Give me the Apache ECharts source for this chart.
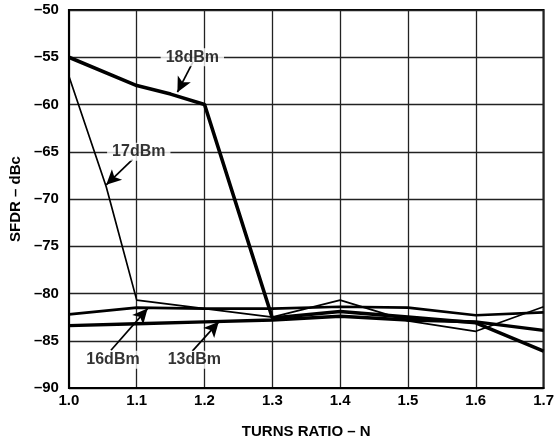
<!DOCTYPE html>
<html>
<head>
<meta charset="utf-8">
<script src="https://cdn.jsdelivr.net/npm/echarts@6/dist/echarts.min.js"></script>
<style>
html,body{margin:0;padding:0;background:#fff;}
#c{width:557px;height:444px;}
</style>
</head>
<body>
<div id="c"></div>
<script>
// Data
var x18 = [1.0, 1.1, 1.15, 1.2, 1.3, 1.4, 1.5, 1.6, 1.7];
var y18 = [-55, -58, -58.9, -60, -82.6, -81.9, -82.5, -83.1, -86.1];
var x17 = [1.0, 1.055, 1.1, 1.3, 1.4, 1.5, 1.6, 1.7];
var y17 = [-57, -68.7, -80.7, -82.5, -80.7, -82.9, -84.0, -81.4];
var x16 = [1.0, 1.1, 1.2, 1.3, 1.4, 1.5, 1.6, 1.7];
var y16 = [-82.2, -81.5, -81.6, -81.6, -81.4, -81.5, -82.3, -82.0];
var x13 = [1.0, 1.1, 1.2, 1.3, 1.4, 1.5, 1.6, 1.7];
var y13 = [-83.4, -83.2, -83.0, -82.8, -82.4, -82.8, -83.0, -83.9];

var labelNames = ['18dBm', '17dBm', '16dBm', '13dBm'];
var labelX = [1.182, 1.103, 1.065, 1.185];
var labelY = [-55, -65, -87, -87];
var arrowFromX = [1.183, 1.094, 1.062, 1.182];
var arrowFromY = [-55.5, -65.8, -86.0, -86.1];
var arrowToX = [1.160, 1.055, 1.116, 1.221];
var arrowToY = [-58.7, -68.5, -81.6, -83.0];

var xTicks = ['1.0','1.1','1.2','1.3','1.4','1.5','1.6','1.7'];

function pairs(xs, ys){ return xs.map(function(x,i){ return [x, ys[i]]; }); }

var FONT = 'Arial';

var chart = echarts.init(document.getElementById('c'), null, {renderer:'canvas'});

var lineSeries = function(name, xs, ys, w){
  return {
    name: name, type: 'line', data: pairs(xs, ys),
    symbol: 'none', smooth: false, animation: false,
    lineStyle: {color: '#000', width: w},
    z: 3
  };
};

var labelData = labelNames.map(function(n,i){ return {value:[labelX[i], labelY[i]], name:n}; });
var arrowData = labelNames.map(function(n,i){
  return [{coord:[arrowFromX[i], arrowFromY[i]]}, {coord:[arrowToX[i], arrowToY[i]]}];
});

var txt = {fontFamily: FONT, fontWeight: 700, fontSize: 15, color: '#000'};

chart.setOption({
  animation: false,
  backgroundColor: '#fff',
  grid: {left: 65.5, right: 12, top: 10, bottom: 50, show: true, borderColor: '#000', borderWidth: 2, backgroundColor: 'transparent'},
  xAxis: {
    type: 'value', min: 1.0, max: 1.7, interval: 0.1,
    name: 'TURNS RATIO – N', nameLocation: 'middle', nameGap: 36,
    nameTextStyle: txt,
    axisLine: {show: true, lineStyle: {color: '#000', width: 2}},
    axisTick: {show: false},
    axisLabel: {
      fontFamily: FONT, fontWeight: 700, fontSize: 15, color: '#000', margin: 5,
      formatter: function(v){ var i = Math.round((v - 1.0) * 10); return xTicks[i] !== undefined ? xTicks[i] : ''; }
    },
    splitLine: {show: true, lineStyle: {color: '#222', width: 1.3}}
  },
  yAxis: {
    type: 'value', min: -90, max: -50, interval: 5,
    name: 'SFDR – dBc', nameLocation: 'middle', nameGap: 40, nameRotate: 90,
    nameTextStyle: txt,
    axisLine: {show: true, lineStyle: {color: '#000', width: 2}},
    axisTick: {show: false},
    axisLabel: {
      fontFamily: FONT, fontWeight: 700, fontSize: 15, color: '#000', margin: 10,
      formatter: function(v){ return String(v).replace('-', '–'); }
    },
    splitLine: {show: true, lineStyle: {color: '#222', width: 1.3}}
  },
  series: [
    lineSeries('13dBm', x13, y13, 3.4),
    lineSeries('16dBm', x16, y16, 2.7),
    lineSeries('17dBm', x17, y17, 1.7),
    lineSeries('18dBm', x18, y18, 3.6),
    {
      name: 'labels', type: 'scatter', data: labelData, symbolSize: 0, z: 5,
      label: {
        show: true, position: 'inside', formatter: function(p){ return p.name; },
        fontFamily: FONT, fontWeight: 700, fontSize: 16, color: '#000',
        backgroundColor: '#fff', padding: [1, 5, 1, 5]
      },
      markLine: {
        silent: true, symbol: ['none', 'arrow'], symbolSize: [11, 15],
        label: {show: false},
        lineStyle: {color: '#000', width: 1.7, type: 'solid'},
        data: arrowData
      }
    }
  ]
});
</script>
</body>
</html>
